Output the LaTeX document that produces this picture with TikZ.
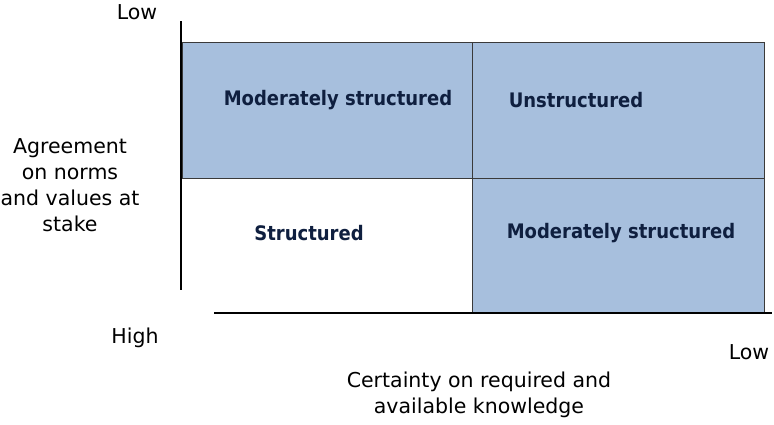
\documentclass[tikz,border=0pt]{standalone}
\usepackage{fontspec}
\setmainfont{DejaVu Sans}
\newfontfamily\narrowfont{DejaVu Sans}[FakeStretch=0.9]
\definecolor{boxfill}{HTML}{A7BFDD}
\definecolor{boxline}{HTML}{3A3A3A}
\definecolor{navy}{HTML}{0F1F3F}
\begin{document}
\begin{tikzpicture}[x=1pt,y=-1pt,
  cell/.style={draw=boxline, line width=0.8pt},
  lbl/.style={font=\narrowfont\fontsize{20}{24}\selectfont\bfseries, text=navy, inner sep=0pt},
  axtxt/.style={font=\fontsize{20.5}{26}\selectfont, text=black, inner sep=0pt, align=center},
  axis/.style={line width=1.6pt, black}]
\useasboundingbox (0,0) rectangle (774,424);
\fill[white] (0,0) rectangle (774,424);
% cells
\fill[boxfill] (182,42) rectangle (764,178);
\fill[boxfill] (472,178) rectangle (764,313);
\draw[cell] (182,42) rectangle (472,178);
\draw[cell] (472,42) rectangle (764,178);
\draw[cell] (472,178) rectangle (764,313);
% axes
\coordinate (vtop) at (181,21);
\coordinate (vbot) at (181,290);
\coordinate (hl) at (214,313);
\coordinate (hr) at (772,313);
\draw[axis] (vtop) -- (vbot);
\draw[axis] (hl) -- (hr);
% cell labels
\node[lbl] (ms1) at (338,100) {Moderately structured};
\node[lbl] (un) at (576,100) {Unstructured};
\node[lbl] (st) at (309,233) {Structured};
\node[lbl] (ms2) at (621,233) {Moderately structured};
% axis labels
\node[axtxt] (lowy) at (137,12) {Low};
\node[axtxt] (high) at (135,338) {High};
\node[axtxt] (lowx) at (749,352) {Low};
\node[axtxt] (yl) at (70,185) {Agreement\\on norms\\and values at\\stake};
\node[axtxt] (xl) at (479,395) {Certainty on required and\\available knowledge};
\end{tikzpicture}
\end{document}
